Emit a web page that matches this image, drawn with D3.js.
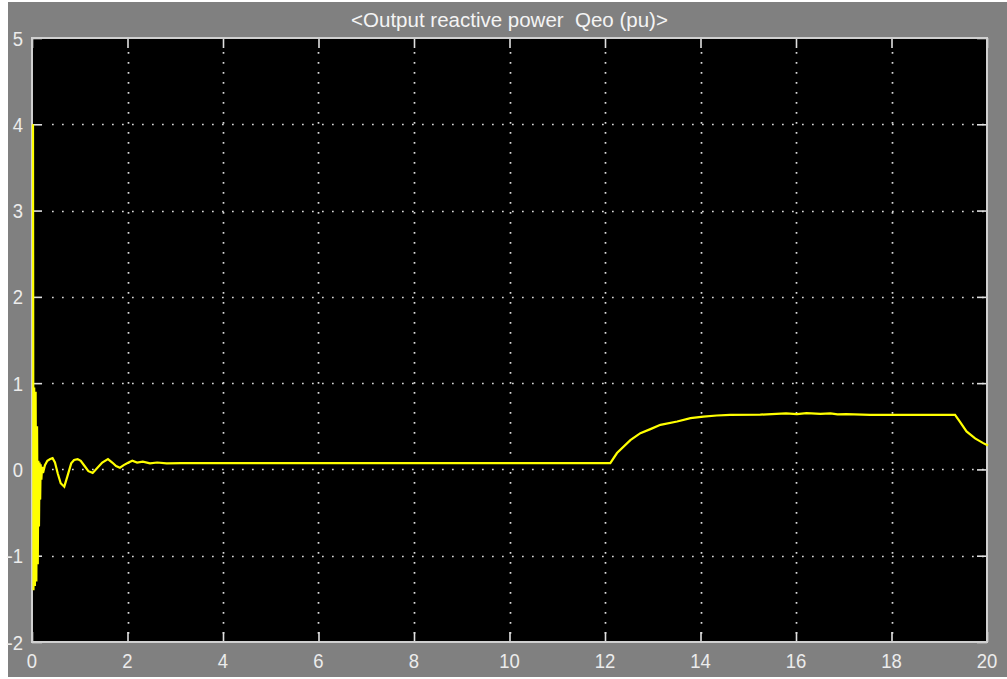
<!DOCTYPE html>
<html>
<head>
<meta charset="utf-8">
<script src="https://cdn.jsdelivr.net/npm/d3@7"></script>
<style>
  html, body { margin: 0; padding: 0; background: #ffffff; }
  svg { display: block; }
</style>
</head>
<body>
<svg id="chart" width="1007" height="679"></svg>
<script>
// Scope trace: output reactive power Qeo (pu) versus simulation time (s)
const chartTitle = "<Output reactive power  Qeo (pu)>";

const xTicks = [0, 2, 4, 6, 8, 10, 12, 14, 16, 18, 20];
const yTicks = [-2, -1, 0, 1, 2, 3, 4, 5];

const timeS = [
  0, 0.01, 0.025, 0.04, 0.055, 0.07, 0.085, 0.1, 0.112, 0.125, 0.137, 0.15, 0.16, 0.175, 0.19, 0.21,
  0.25, 0.3, 0.36, 0.41, 0.46, 0.52, 0.58, 0.655, 0.72, 0.8, 0.86, 0.935, 1.0, 1.08, 1.16, 1.25,
  1.35, 1.45, 1.57, 1.66, 1.74, 1.82, 1.9, 2.0, 2.08, 2.18, 2.3, 2.45, 2.6, 2.8, 3.1,
  12.09, 12.23, 12.51, 12.72, 12.93, 13.14, 13.49, 13.77, 14.04, 14.32, 14.6, 15.23,
  15.77, 16.0, 16.2, 16.49, 16.7, 16.85, 17.03, 17.53, 19.31,
  19.41, 19.55, 19.73, 19.9, 20.0
];
const qeoPu = [
  4.0, -1.4, 0.95, -1.35, 0.9, -1.3, 0.5, -1.1, 0.1, -0.66, 0.08, -0.35, 0.06, -0.12, 0.03, -0.04,
  0.05, 0.1, 0.12, 0.13, 0.08, -0.05, -0.16, -0.2, -0.08, 0.07, 0.11, 0.12, 0.1, 0.04, -0.02, -0.04,
  0.02, 0.08, 0.12, 0.08, 0.04, 0.02, 0.05, 0.08, 0.1, 0.08, 0.09, 0.07, 0.08, 0.07, 0.072,
  0.072, 0.19, 0.34, 0.42, 0.467, 0.517, 0.555, 0.594, 0.613, 0.625, 0.633, 0.635,
  0.65, 0.64, 0.652, 0.645, 0.65, 0.638, 0.642, 0.633, 0.633,
  0.555, 0.44, 0.36, 0.305, 0.277
];

const W = 1007, H = 679;
const plot = { left: 32, top: 38, right: 987, bottom: 642 };

const svg = d3.select("#chart");

// window background (thin white margins on the left, top and bottom)
svg.append("rect")
  .attr("x", 8).attr("y", 2)
  .attr("width", W - 8).attr("height", H - 4)
  .attr("fill", "#808080");

const x = d3.scaleLinear().domain([0, 20]).range([plot.left, plot.right]);
const y = d3.scaleLinear().domain([-2, 5]).range([plot.bottom, plot.top]);

// plot area
svg.append("rect")
  .attr("x", plot.left).attr("y", plot.top)
  .attr("width", plot.right - plot.left).attr("height", plot.bottom - plot.top)
  .attr("fill", "#000000");

// dotted grid
const grid = svg.append("g")
  .attr("stroke", "#d8d8d8")
  .attr("stroke-width", 1.7)
  .attr("stroke-dasharray", "1.7 8.3");

grid.selectAll("line.vx")
  .data(xTicks.filter(d => d > 0 && d < 20))
  .join("line")
  .attr("class", "vx")
  .attr("x1", d => Math.round(x(d)) + 0.5).attr("x2", d => Math.round(x(d)) + 0.5)
  .attr("y1", plot.top + 14).attr("y2", plot.bottom);

grid.selectAll("line.hy")
  .data(yTicks.filter(d => d > -2 && d < 5))
  .join("line")
  .attr("class", "hy")
  .attr("x1", plot.left + 20).attr("x2", plot.right)
  .attr("y1", d => Math.round(y(d)) + 0.5).attr("y2", d => Math.round(y(d)) + 0.5);

// short solid tick marks on all four sides
const tickColor = "#e0e0e0";
function styleAxis(g) {
  g.select(".domain").remove();
  g.selectAll(".tick line").attr("stroke", tickColor).attr("stroke-width", 1.6);
}

svg.append("g")
  .attr("transform", `translate(0,${plot.bottom})`)
  .call(d3.axisBottom(x).tickValues(xTicks).tickSizeInner(-10).tickSizeOuter(0).tickFormat(""))
  .call(styleAxis);
svg.append("g")
  .attr("transform", `translate(0,${plot.top})`)
  .call(d3.axisTop(x).tickValues(xTicks).tickSizeInner(-10).tickSizeOuter(0).tickFormat(""))
  .call(styleAxis);
svg.append("g")
  .attr("transform", `translate(${plot.left},0)`)
  .call(d3.axisLeft(y).tickValues(yTicks).tickSizeInner(-10).tickSizeOuter(0).tickFormat(""))
  .call(styleAxis);
svg.append("g")
  .attr("transform", `translate(${plot.right},0)`)
  .call(d3.axisRight(y).tickValues(yTicks).tickSizeInner(-10).tickSizeOuter(0).tickFormat(""))
  .call(styleAxis);

// frame
svg.append("rect")
  .attr("x", plot.left).attr("y", plot.top)
  .attr("width", plot.right - plot.left).attr("height", plot.bottom - plot.top)
  .attr("fill", "none")
  .attr("stroke", "#d0d0d0")
  .attr("stroke-width", 2);

// trace, drawn over the frame
const line = d3.line()
  .x((d, i) => x(timeS[i]) + 1)
  .y(d => y(d));

svg.append("path")
  .datum(qeoPu)
  .attr("d", line)
  .attr("fill", "none")
  .attr("stroke", "#ffff00")
  .attr("stroke-width", 2.2)
  .attr("stroke-linejoin", "miter");

// tick labels (slightly condensed)
const labelFont = "'Liberation Sans', Arial, sans-serif";
const squeeze = 0.88;

svg.append("g")
  .selectAll("text")
  .data(xTicks)
  .join("text")
  .attr("transform", d => `translate(${x(d)},668) scale(${squeeze},1)`)
  .attr("text-anchor", "middle")
  .attr("font-family", labelFont)
  .attr("font-size", 21)
  .attr("fill", "#ececec")
  .text(d => d);

svg.append("g")
  .selectAll("text")
  .data(yTicks)
  .join("text")
  .attr("transform", d => `translate(23,${y(d) + 7.5}) scale(${squeeze},1)`)
  .attr("text-anchor", "end")
  .attr("font-family", labelFont)
  .attr("font-size", 21)
  .attr("fill", "#ececec")
  .text(d => d);

// title
svg.append("text")
  .attr("x", (plot.left + plot.right) / 2)
  .attr("y", 27)
  .attr("text-anchor", "middle")
  .attr("font-family", labelFont)
  .attr("font-size", 20.5)
  .attr("fill", "#f4f4f4")
  .attr("xml:space", "preserve")
  .style("white-space", "pre")
  .text(chartTitle);
</script>
</body>
</html>
